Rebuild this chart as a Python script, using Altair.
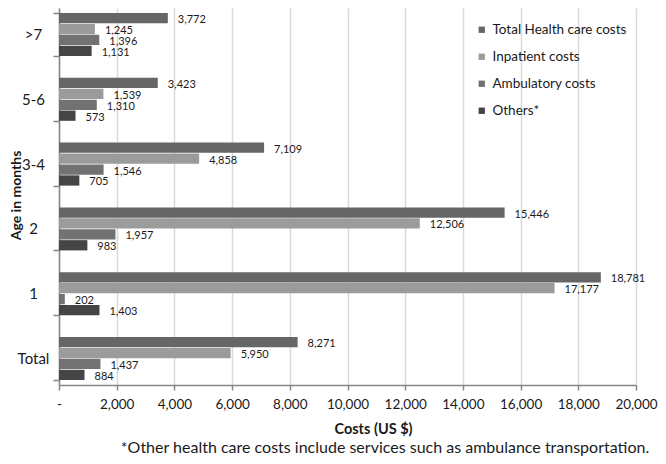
import altair as alt
import pandas as pd

ages = [">7", "5-6", "3-4", "2", "1", "Total"]
series = ["Total Health care costs", "Inpatient costs", "Ambulatory costs", "Others*"]
total = [3772, 3423, 7109, 15446, 18781, 8271]
inpatient = [1245, 1539, 4858, 12506, 17177, 5950]
ambulatory = [1396, 1310, 1546, 1957, 202, 1437]
others = [1131, 573, 705, 983, 1403, 884]
colors = ["#666666", "#9b9b9b", "#727272", "#454545"]
x_ticks = [0, 2000, 4000, 6000, 8000, 10000, 12000, 14000, 16000, 18000, 20000]
footnote = "*Other health care costs include services such as ambulance transportation."

rows = []
for s, vals in zip(series, [total, inpatient, ambulatory, others]):
    for a, v in zip(ages, vals):
        rows.append({"Age": a, "Series": s, "Cost": v})
df = pd.DataFrame(rows)

FONT = "Lato"
INK = "#1a1a1a"

x_enc = alt.X(
    "Cost:Q",
    scale=alt.Scale(domain=[0, 20000], nice=False),
    axis=alt.Axis(
        values=x_ticks, labelOverlap=False, labelFlush=False,
        labelExpr="datum.value == 0 ? '-' : format(datum.value, ',')",
        grid=True, gridColor="#d9d9d9", gridWidth=1.5,
        domainColor="#868686", domainWidth=1.5,
        tickColor="#868686", tickWidth=1.5, tickSize=5,
        labelFont=FONT, labelFontSize=13.5, labelColor=INK, labelPadding=7,
        title="Costs (US $)", titleFont=FONT, titleFontSize=14.5, titleFontWeight="bold",
        titleColor=INK, titleX=314, titleY=44, titleBaseline="middle", titleAlign="center",
    ),
)
y_enc = alt.Y(
    "Age:N", sort=ages,
    scale=alt.Scale(paddingInner=0.336, paddingOuter=0.077),
    axis=alt.Axis(
        tickBand="extent", tickSize=6, tickColor="#868686", tickWidth=1.5,
        domainColor="#868686", domainWidth=1.5,
        labelFont=FONT, labelFontSize=15, labelColor=INK,
        labelAlign="center", labelPadding=20,
        title="Age in months", titleFont=FONT, titleFontSize=14, titleFontWeight="bold",
        titleColor=INK, titleX=-43, titleY=187, titleAngle=270,
        titleAlign="center", titleBaseline="middle",
    ),
)
yoff = alt.YOffset("Series:N", sort=series, scale=alt.Scale(paddingInner=0.06, paddingOuter=0))

bars = alt.Chart(df).mark_bar().encode(
    x=x_enc, y=y_enc, yOffset=yoff,
    color=alt.Color(
        "Series:N", sort=series,
        scale=alt.Scale(domain=series, range=colors),
        legend=alt.Legend(
            title=None, orient="none", legendX=416, legendY=15,
            symbolType="square", symbolSize=40, symbolStrokeWidth=0,
            labelFont=FONT, labelFontSize=13.5, labelColor=INK,
            rowPadding=12, labelOffset=4, padding=0,
        ),
    ),
)

labels = alt.Chart(df).mark_text(
    align="left", baseline="middle", dx=10, dy=2, font=FONT, fontSize=11, color=INK
).encode(
    x="Cost:Q", y=alt.Y("Age:N", sort=ages), yOffset=alt.YOffset("Series:N", sort=series),
    text=alt.Text("Cost:Q", format=","),
)

note = alt.Chart(pd.DataFrame({"t": [footnote]})).mark_text(
    font=FONT, fontSize=16, color=INK, baseline="middle", align="center"
).encode(x=alt.value(326), y=alt.value(440), text="t:N")

chart = alt.layer(bars, labels, note).properties(
    width=577, height=377,
    autosize=alt.AutoSizeParams(type="none"),
    padding={"left": 51, "top": 0, "right": 22, "bottom": 71},
).configure_view(strokeWidth=0)

chart.save("out.html", embed_options={"renderer": "svg", "actions": False})
